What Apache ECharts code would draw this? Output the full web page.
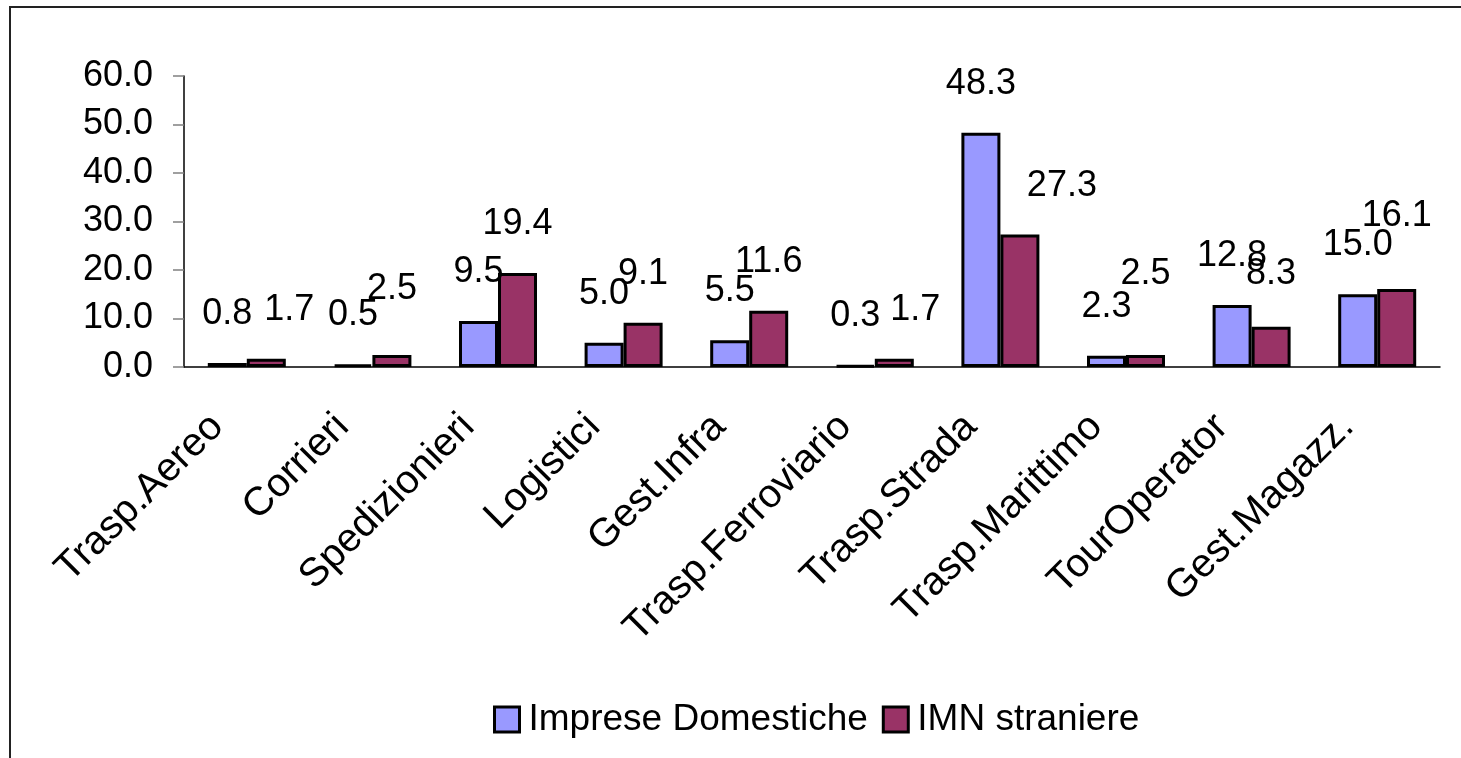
<!DOCTYPE html>
<html>
<head>
<meta charset="utf-8">
<script src="https://cdn.jsdelivr.net/npm/echarts@6/dist/echarts.min.js"></script>
<style>
  html, body { margin: 0; padding: 0; background: #fff; }
  #chart { width: 1461px; height: 758px; }
</style>
</head>
<body>
<div id="chart"></div>
<script>
const categories = ['Trasp.Aereo', 'Corrieri', 'Spedizionieri', 'Logistici', 'Gest.Infra',
  'Trasp.Ferroviario', 'Trasp.Strada', 'Trasp.Marittimo', 'TourOperator', 'Gest.Magazz.'];
const domestiche = [0.8, 0.5, 9.5, 5.0, 5.5, 0.3, 48.3, 2.3, 12.8, 15.0];
const straniere = [1.7, 2.5, 19.4, 9.1, 11.6, 1.7, 27.3, 2.5, 8.3, 16.1];
const seriesNames = ['Imprese Domestiche', 'IMN straniere'];

// label nudges copied from the original layout (some labels were moved by hand)
const straniereNudge = [[23, 0], [0, -17], [0, 0], [0, 0], [0, 0], [21, 0], [42, 0], [0, -32], [0, -4], [0, -24]];

const FONT = "'Liberation Sans', Arial, sans-serif";

let chart = echarts.init(document.getElementById('chart'));

const labelStyle = {
  show: true,
  position: 'top',
  distance: 31,
  color: '#000',
  fontFamily: FONT,
  fontSize: 36,
  formatter: p => p.value.toFixed(1)
};

chart.setOption({
  animation: false,
  graphic: [{
    type: 'rect',
    shape: { x: 10, y: 7, width: 1480, height: 800 },
    style: { fill: 'none', stroke: '#222', lineWidth: 2 }
  }],
  legend: {
    data: seriesNames,
    left: 488,
    top: 696,
    icon: 'rect',
    itemWidth: 25,
    itemHeight: 25,
    itemGap: 14,
    itemStyle: { borderColor: '#000', borderWidth: 3 },
    textStyle: { fontFamily: FONT, fontSize: 37, color: '#000', padding: [0, 0, 0, 4] }
  },
  grid: {
    left: 184,
    right: 21,
    top: 76,
    bottom: 391,
    outerBoundsMode: 'none'
  },
  xAxis: {
    type: 'category',
    data: categories,
    axisLine: { lineStyle: { color: '#000', width: 1.5 } },
    axisTick: { length: 11, lineStyle: { color: '#808080', width: 1.5 } },
    axisLabel: {
      interval: 0,
      rotate: 45,
      margin: 24,
      padding: [0, 42, 0, 0],
      color: '#000',
      fontFamily: FONT,
      fontSize: 40
    }
  },
  yAxis: {
    type: 'value',
    min: 0,
    max: 60,
    interval: 10,
    splitLine: { show: false },
    axisLine: { show: true, lineStyle: { color: '#000', width: 1.5 } },
    axisTick: { show: true, length: 11, lineStyle: { color: '#808080', width: 1.5 } },
    axisLabel: {
      margin: 31,
      color: '#000',
      fontFamily: FONT,
      fontSize: 36,
      formatter: v => v.toFixed(1)
    }
  },
  series: [
    {
      name: seriesNames[0],
      type: 'bar',
      barWidth: 39,
      barGap: '0%',
      data: domestiche,
      itemStyle: { color: '#9999FF', borderColor: '#000', borderWidth: 3 },
      label: labelStyle
    },
    {
      name: seriesNames[1],
      type: 'bar',
      barWidth: 39,
      barGap: '0%',
      data: straniere.map((v, i) => ({ value: v, label: { offset: straniereNudge[i] } })),
      itemStyle: { color: '#993366', borderColor: '#000', borderWidth: 3 },
      label: labelStyle
    }
  ]
});
</script>
</body>
</html>
